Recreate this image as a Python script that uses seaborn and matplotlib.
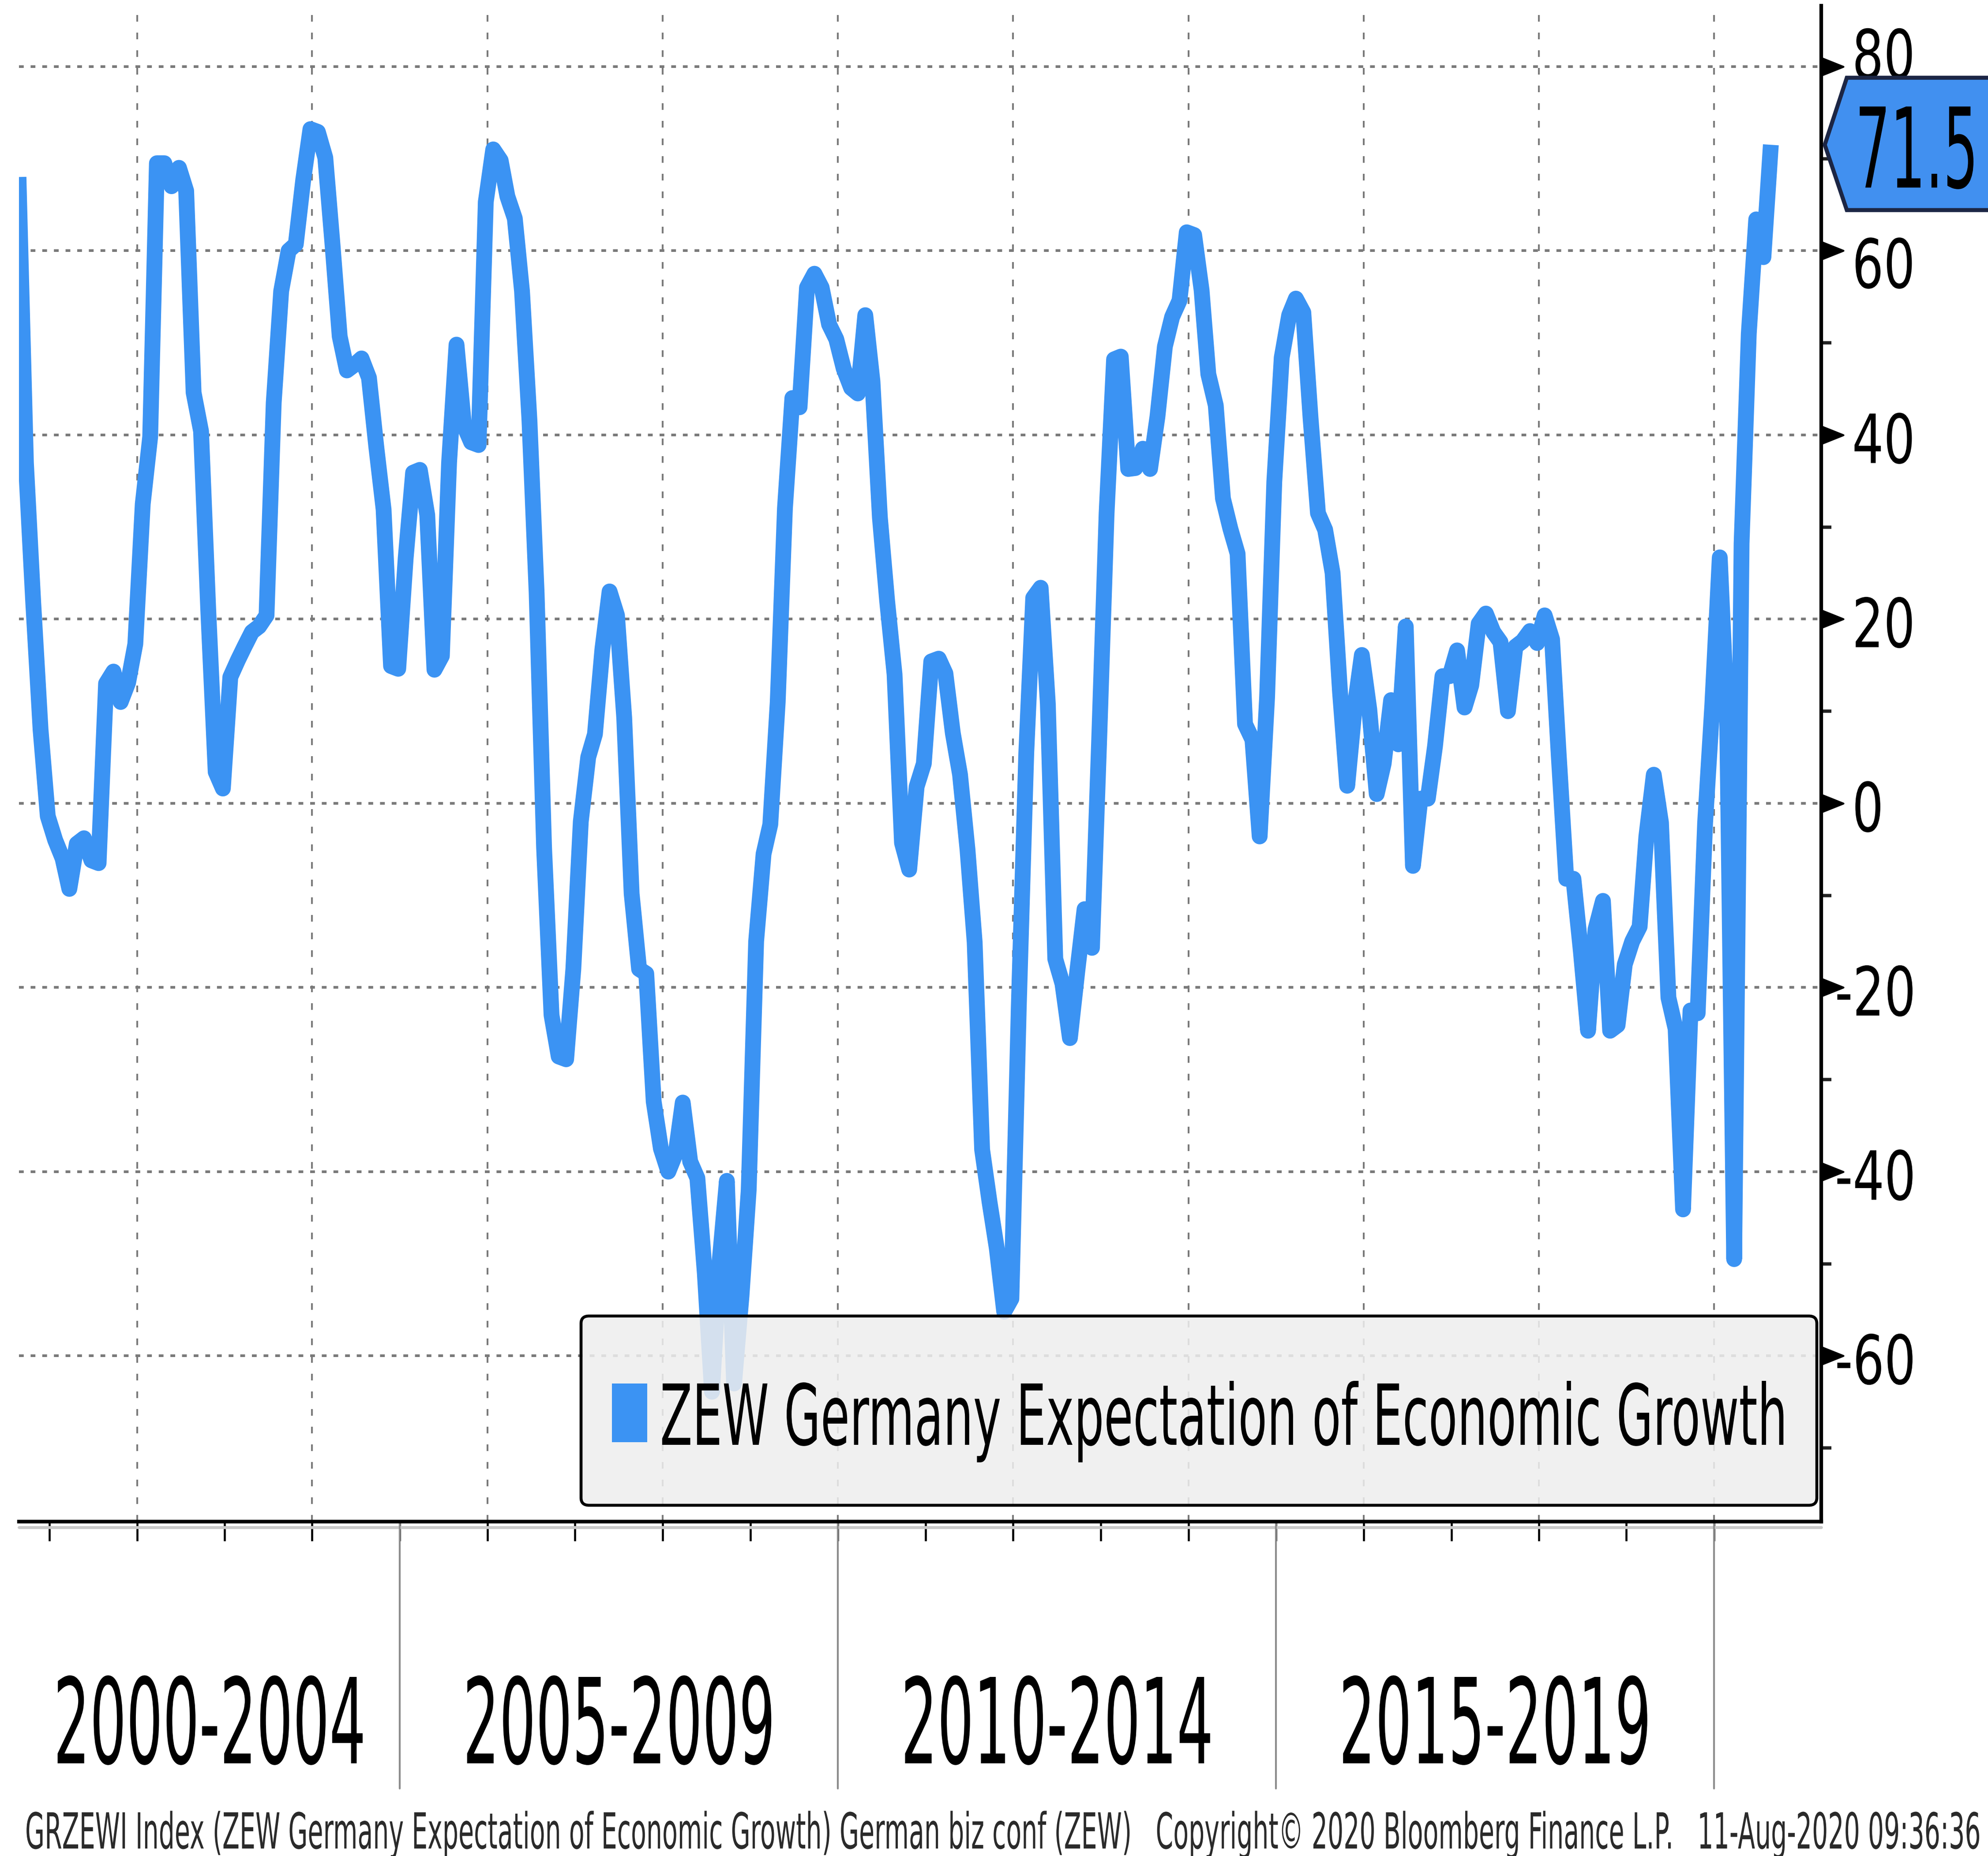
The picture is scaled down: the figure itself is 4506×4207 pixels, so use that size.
import pandas as pd
import matplotlib
matplotlib.use("Agg")
import matplotlib.pyplot as plt
import matplotlib.dates as mdates
import matplotlib.patheffects as pe
from matplotlib.patches import Polygon, FancyBboxPatch, Rectangle
from matplotlib.transforms import (Affine2D, IdentityTransform,
                                   blended_transform_factory, offset_copy)
import seaborn as sns

# ZEW Germany expectation of economic growth, monthly, Aug 2000 - Aug 2020
zew_2000 = [68, 37, 22, 8, -1.4]
zew_2001 = [-4, -6, -9.3, -4.4, -3.8, -6.2, -6.5, 13, 14.3, 11, 13.1, 17.3]
zew_2002 = [32.5, 39.8, 69.5, 69.5, 67, 69, 66.5, 44.6, 40.4, 21, 3.4, 1.6]
zew_2003 = [13.7, 15.5, 17, 18.6, 19.2, 20.4, 43.5, 55.6, 60, 60.7, 67.7, 73.2]
zew_2004 = [72.9, 70.1, 61, 50.7, 47, 47.6, 48.3, 46.2, 38.6, 31.9, 14.9, 14.6]
zew_2005 = [26.6, 35.9, 36.2, 31.3, 14.5, 16, 37, 49.8, 41, 39.2, 38.9, 65.3]
zew_2006 = [71, 69.8, 65.9, 63.5, 55.6, 41.6, 22.8, -4.8, -23, -27.5, -27.8, -18]
zew_2007 = [-2, 5, 7.5, 16.7, 23, 20.4, 9.3, -9.8, -18, -18.5, -32.4, -37.5]
zew_2008 = [-40, -38, -32.5, -38.9, -40.7, -51, -63.9, -50, -41, -63, -53.5, -42]
zew_2009 = [-15, -5.5, -2.3, 11, 32, 44, 43, 56, 57.5, 56, 52, 50.4]
zew_2010 = [47.2, 45.1, 44.5, 53.0, 45.8, 31, 22, 14.0, -4.3, -7.2, 1.8, 4.3]
zew_2011 = [15.4, 15.7, 14.1, 7.6, 3.1, -5, -15.1, -37.6, -43.3, -48.3, -55.2, -53.8]
zew_2012 = [-22, 5.4, 22.3, 23.4, 10.8, -16.9, -19.6, -25.5, -18.2, -11.5, -15.7, 6.9]
zew_2013 = [31.5, 48.2, 48.5, 36.3, 36.4, 38.5, 36.3, 42.0, 49.6, 52.8, 54.6, 62.0]
zew_2014 = [61.7, 55.7, 46.6, 43.2, 33.1, 29.8, 27.1, 8.6, 6.9, -3.6, 11.5, 34.9]
zew_2015 = [48.4, 53.0, 54.8, 53.3, 41.9, 31.5, 29.7, 25.0, 12.1, 1.9, 10.4, 16.1]
zew_2016 = [10.2, 1.0, 4.3, 11.2, 6.4, 19.2, -6.8, 0.5, 0.5, 6.2, 13.8, 13.8]
zew_2017 = [16.6, 10.4, 12.8, 19.5, 20.6, 18.6, 17.5, 10.0, 17.0, 17.6, 18.7, 17.4]
zew_2018 = [20.4, 17.8, 5.1, -8.2, -8.2, -16.1, -24.7, -13.7, -10.6, -24.7, -24.1, -17.5]
zew_2019 = [-15.0, -13.4, -3.6, 3.1, -2.1, -21.1, -24.5, -44.1, -22.5, -22.8, -2.1, 10.7]
zew_2020 = [26.7, 8.7, -49.5, 28.2, 51.0, 63.4, 59.3, 71.5]

period_labels = ["2000-2004", "2005-2009", "2010-2014", "2015-2019"]
period_starts = ["2000-08-27", "2005-01-01", "2010-01-01", "2015-01-01"]
period_ends = ["2005-01-01", "2010-01-01", "2015-01-01", "2020-01-01"]
y_ticks = [-60, -40, -20, 0, 20, 40, 60, 80]
legend_label = "ZEW Germany Expectation of Economic Growth"
footer = ("GRZEWI Index (ZEW Germany Expectation of Economic Growth) German biz conf (ZEW)"
          "   Copyright\u00a9 2020 Bloomberg Finance L.P.   11-Aug-2020 09:36:36")

values = (zew_2000 + zew_2001 + zew_2002 + zew_2003 + zew_2004 + zew_2005 + zew_2006
          + zew_2007 + zew_2008 + zew_2009 + zew_2010 + zew_2011 + zew_2012 + zew_2013
          + zew_2014 + zew_2015 + zew_2016 + zew_2017 + zew_2018 + zew_2019 + zew_2020)
dates = pd.date_range("2000-08-01", periods=len(values), freq="MS") + pd.Timedelta(days=24)
df = pd.DataFrame({"date": dates, "zew": values})


# Bloomberg uses a tall condensed font: draw the text at the width it needs
# and stretch the glyphs upward from the baseline
class Tall(pe.AbstractPathEffect):
    def __init__(self, sy):
        super().__init__()
        self.sy = sy

    def draw_path(self, renderer, gc, tpath, affine, rgbFace=None):
        renderer.draw_path(gc, tpath, Affine2D().scale(1.0, self.sy) + affine, rgbFace)


sns.set_theme(style="white")
plt.rcParams["font.family"] = ["DejaVu Sans"]

W, H, DPI = 4506, 4207, 300
BLUE = "#3b93f3"
GRID = "#7a7a7a"


def fx(px):
    return px / W


def fy(py):
    return 1 - py / H


fig = plt.figure(figsize=(W / DPI, H / DPI), dpi=DPI, facecolor="white")
ax = fig.add_axes([fx(43), fy(3449), fx(4128) - fx(43), fy(13) - fy(3449)])
ax.set_facecolor("white")

sns.lineplot(data=df, x="date", y="zew", ax=ax, color=BLUE, linewidth=8.6,
             estimator=None, solid_joinstyle="round", solid_capstyle="butt", zorder=3)

ax.set_xlim(pd.Timestamp("2000-08-27"), pd.Timestamp("2021-03-23"))
ax.set_ylim(-78, 86.6)
ax.set_xlabel("")
ax.set_ylabel("")

for s in ["left", "top"]:
    ax.spines[s].set_visible(False)
for s in ["right", "bottom"]:
    ax.spines[s].set_color("black")
    ax.spines[s].set_linewidth(2.0)

# light shadow under the bottom axis line
ax.plot([0, 1], [0, 0], color="#c8c8c8", lw=1.6, zorder=1, clip_on=False,
        transform=offset_copy(ax.transAxes, fig=fig, y=-3.2, units="points"))

# x axis: a tick each January, dashed grid on even years
even_years = [pd.Timestamp(f"{y}-01-01") for y in range(2002, 2021, 2)]
odd_years = [pd.Timestamp(f"{y}-01-01") for y in range(2001, 2020, 2)]
ax.set_xticks(even_years)
ax.set_xticks(odd_years, minor=True)
ax.tick_params(axis="x", which="both", direction="out", length=10.5, width=1.1,
               color="black", bottom=True, labelbottom=False)
ax.xaxis.grid(True, which="major", color=GRID, linewidth=0.96, linestyle=(0, (3.75, 6.25)))

# y axis on the right
ax.set_yticks(y_ticks)
ax.set_yticks(range(-70, 80, 20), minor=True)
ax.tick_params(axis="y", which="major", length=0, left=False, right=False,
               labelleft=False, labelright=False)
ax.tick_params(axis="y", which="minor", left=False, right=True, direction="out",
               length=5.5, width=1.8, color="#222222")
ax.yaxis.grid(True, which="major", color=GRID, linewidth=1.44, linestyle=(0, (1.8, 2.6)))
ax.xaxis.grid(False, which="minor")
ax.set_axisbelow(True)

# triangle ticks pointing right
tri = [(0, -0.4), (1, 0), (0, 0.4), (0, -0.4)]
trans_y = blended_transform_factory(ax.transAxes, ax.transData)
ax.plot([1.0] * len(y_ticks), y_ticks, linestyle="none", marker=tri, markersize=24,
        color="black", transform=trans_y, clip_on=False, zorder=6)

# (text, wanted ink width in px) - sizes below are the wanted glyph heights
fit_jobs = []

# y labels
label_trans = blended_transform_factory(fig.transFigure, ax.transData)
for v in y_ticks:
    drop = {80: 6.5, 60: 20.2}.get(v, 15.3)
    xpos = fx(4159) if v < 0 else fx(4198)
    t = ax.text(xpos, v, f"{v}", transform=offset_copy(label_trans, fig=fig, y=-drop, units="points"),
                ha="left", va="baseline", fontsize=36.9 * 0.73, color="black",
                clip_on=False, zorder=7)
    t.set_path_effects([Tall(1 / 0.73)])

# period labels and separators
per_trans = blended_transform_factory(ax.transData, fig.transFigure)
for lab, a, b in zip(period_labels, period_starts, period_ends):
    c = (mdates.date2num(pd.Timestamp(a)) + mdates.date2num(pd.Timestamp(b))) / 2
    t = ax.text(c, fy(3997), lab, transform=per_trans, ha="center", va="baseline",
                fontsize=64.5, color="black", clip_on=False)
    fit_jobs.append((t, 708))

sep_trans = blended_transform_factory(ax.transData, ax.transAxes)
for b in period_ends:
    d = pd.Timestamp(b)
    ax.plot([d, d], [0, -0.176], transform=sep_trans, color="#8c8c8c", lw=1.0,
            clip_on=False, zorder=2)

# legend box
box = FancyBboxPatch((fx(1317), fy(3412)), fx(4118) - fx(1317), fy(2983) - fy(3412),
                     boxstyle="round,pad=0,rounding_size=0.004", transform=fig.transFigure,
                     facecolor=(0.935, 0.935, 0.935, 0.86), edgecolor="black", lw=1.6, zorder=8)
fig.add_artist(box)
mark = Rectangle((fx(1387), fy(3269)), fx(1467) - fx(1387), fy(3136) - fy(3269),
                 transform=fig.transFigure, facecolor=BLUE, edgecolor="none", zorder=9)
fig.add_artist(mark)
t = fig.text(fx(1496), fy(3275), legend_label, ha="left", va="baseline",
             fontsize=45.8, color="black", zorder=9)
fit_jobs.append((t, 2556))

# footer
t = fig.text(fx(57), fy(4190), footer, ha="left", va="baseline", fontsize=27, color="#2a2a2a")
fit_jobs.append((t, 4433))

# last value tag
last = values[-1]
yt = ax.transData.transform((0, last))[1]
xs = ax.transAxes.transform((1, 0))[0] + 8
tag = Polygon([(xs, yt), (xs + 50, yt + 152), (W + 40, yt + 152), (W + 40, yt - 148),
               (xs + 50, yt - 148)], closed=True, transform=IdentityTransform(),
              facecolor="#4190f0", edgecolor="#1c2645", lw=2.2, zorder=10)
fig.add_artist(tag)
t = fig.text(4205 / W, (yt - 97) / H, f"{last:.1f}", ha="left", va="baseline",
             fontsize=60.5, color="black", zorder=11)
fit_jobs.append((t, 279))

fig.canvas.draw()
renderer = fig.canvas.get_renderer()
for txt, target in fit_jobs:
    k = target / txt.get_window_extent(renderer).width
    txt.set_fontsize(txt.get_fontsize() * k)
    txt.set_path_effects([Tall(1 / k)])

fig.savefig("out.png", dpi=DPI, facecolor="white")
